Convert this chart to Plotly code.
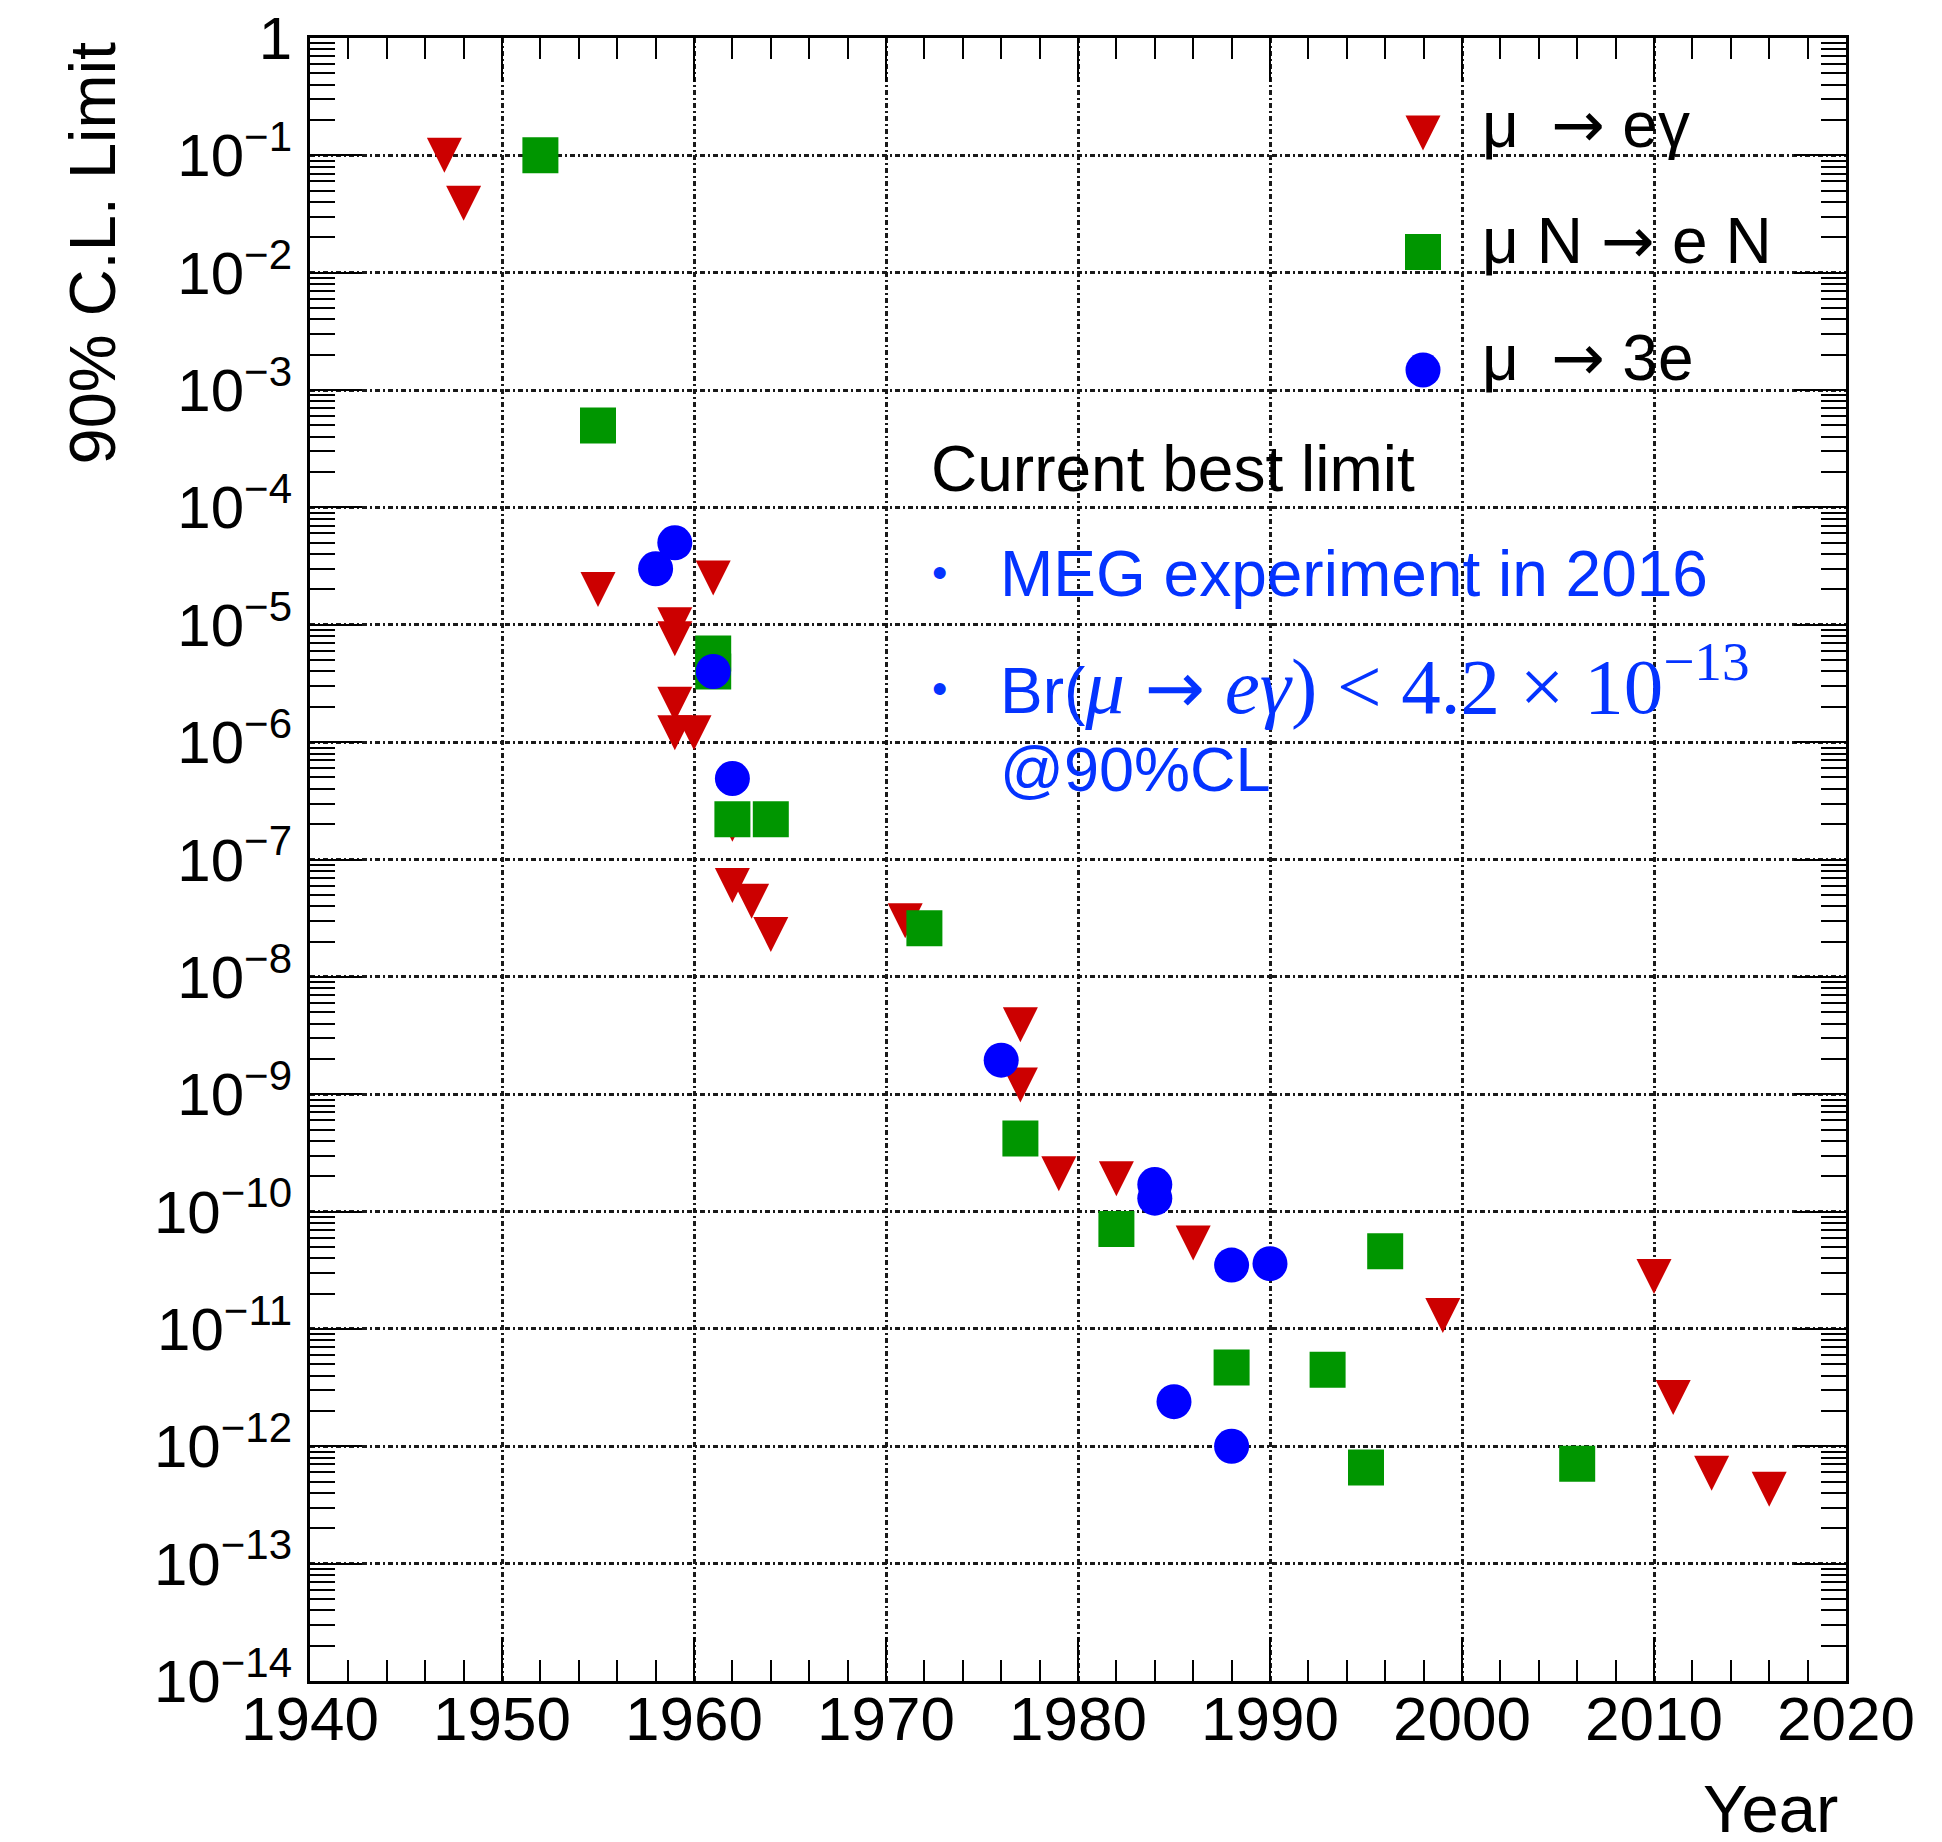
import plotly.graph_objects as go

# ---------------- data ----------------
meg_year = [1947, 1948, 1955, 1959, 1959, 1961, 1959, 1959, 1960, 1962, 1962, 1963,
            1964, 1971, 1977, 1977, 1979, 1982, 1986, 1999, 2010, 2011, 2013, 2016]
meg_limit = [1.0e-1, 3.9e-2, 2.0e-5, 1.0e-5, 7.6e-6, 2.5e-5, 2.1e-6, 1.2e-6, 1.2e-6,
             2.0e-7, 6.0e-8, 4.4e-8, 2.3e-8, 3.0e-8, 3.9e-9, 1.2e-9, 2.1e-10, 1.9e-10,
             5.4e-11, 1.3e-11, 2.8e-11, 2.6e-12, 5.9e-13, 4.3e-13]

conv_year = [1952, 1955, 1961, 1961, 1962, 1964, 1972, 1977, 1982, 1988, 1993, 1996, 1995, 2006]
conv_limit = [1.0e-1, 5.0e-4, 5.7e-6, 4.0e-6, 2.2e-7, 2.2e-7, 2.6e-8, 4.2e-10, 7.1e-11,
              4.7e-12, 4.5e-12, 4.6e-11, 6.6e-13, 7.1e-13]

three_e_year = [1958, 1959, 1961, 1962, 1976, 1984, 1984, 1985, 1988, 1990, 1988]
three_e_limit = [3.0e-5, 5.0e-5, 4.0e-6, 4.9e-7, 1.95e-9, 1.7e-10, 1.3e-10, 2.4e-12,
                 3.5e-11, 3.6e-11, 1.0e-12]

ARROW = "<span style='font-family:DejaVu Sans'>→</span>"
series_names = ["μ → eγ", "μ N → e N", "μ → 3e"]
series_labels = ["μ\u2002" + ARROW + " eγ", "μ N " + ARROW + " e N", "μ\u2002" + ARROW + " 3e"]

x_tickvals = [1940, 1950, 1960, 1970, 1980, 1990, 2000, 2010, 2020]
x_ticktext = ["1940", "1950", "1960", "1970", "1980", "1990", "2000", "2010", "2020"]

y_exponents = list(range(-14, 1))
y_ticktext = ["10<sup>−14</sup>", "10<sup>−13</sup>", "10<sup>−12</sup>", "10<sup>−11</sup>",
              "10<sup>−10</sup>", "10<sup>−9</sup>", "10<sup>−8</sup>", "10<sup>−7</sup>",
              "10<sup>−6</sup>", "10<sup>−5</sup>", "10<sup>−4</sup>", "10<sup>−3</sup>",
              "10<sup>−2</sup>", "10<sup>−1</sup>", "1"]

box_title = "Current best limit"
box_line1 = "MEG experiment in 2016"
box_line2 = ("Br(<span style='font-family:Liberation Serif;font-size:79px'>"
             "<i>μ</i> <span style='font-family:DejaVu Sans;font-size:72px'>→</span> "
             "<i>eγ</i>) &lt; 4.2 × 10<sup>−13</sup></span>")
box_line3 = "@90%CL"

# ---------------- styling ----------------
RED, GREEN, BLUE = "#CC0000", "#009600", "#0000FF"
TEXT_BLUE = "#0433FF"
FONT = "Liberation Sans"
W, H = 1942, 1842
L, R, T, B = 310, 96, 38, 161
PW, PH = W - L - R, H - T - B


def px(x):
    return (x - L) / PW


def py(y):
    return (H - B - y) / PH


TRI = 35
fig = go.Figure()

fig.add_trace(go.Scatter(x=meg_year, y=meg_limit, mode="markers", name=series_names[0],
                         marker=dict(symbol="arrow-down", size=TRI, standoff=TRI / 2,
                                     color=RED, line=dict(width=0)),
                         showlegend=False))
fig.add_trace(go.Scatter(x=conv_year, y=conv_limit, mode="markers", name=series_names[1],
                         marker=dict(symbol="square", size=36, color=GREEN, line=dict(width=0)),
                         showlegend=False))
fig.add_trace(go.Scatter(x=three_e_year, y=three_e_limit, mode="markers", name=series_names[2],
                         marker=dict(symbol="circle", size=35, color=BLUE, line=dict(width=0)),
                         showlegend=False))

# legend markers (drawn on an overlay axis in plot-fraction units)
leg_y_px = [133, 252, 370]
leg_text_y_px = [125, 241, 358]
leg_symbols = ["arrow-down", "square", "circle"]
leg_colors = [RED, GREEN, BLUE]
leg_sizes = [TRI, 36, 35]
for i in range(3):
    m = dict(symbol=leg_symbols[i], size=leg_sizes[i], color=leg_colors[i], line=dict(width=0))
    if leg_symbols[i] == "arrow-down":
        m["standoff"] = TRI / 2
    fig.add_trace(go.Scatter(x=[px(1423)], y=[py(leg_y_px[i])], mode="markers",
                             marker=m, xaxis="x2", yaxis="y2", showlegend=False,
                             hoverinfo="skip"))

grid_common = dict(showgrid=True, gridcolor="#1a1a1a", gridwidth=2.5, griddash="5px,3px,2px,3px")

fig.update_layout(
    width=W, height=H, autosize=False,
    margin=dict(l=L, r=R, t=T, b=B, autoexpand=False),
    paper_bgcolor="white", plot_bgcolor="white",
    font=dict(family=FONT, color="black"),
    xaxis=dict(range=[1940, 2020], tickmode="array", tickvals=x_tickvals, ticktext=x_ticktext,
               ticks="inside", ticklen=44, tickwidth=2, tickcolor="black",
               showline=True, linewidth=3, linecolor="black", mirror="ticks",
               tickfont=dict(family=FONT, size=62, color="black"), ticklabelstandoff=-18,
               minor=dict(tickmode="linear", tick0=1940, dtick=2, ticks="inside", ticklen=21,
                          tickwidth=2, tickcolor="black", showgrid=False),
               zeroline=False, **grid_common),
    yaxis=dict(type="log", range=[-14, 0], tickmode="array",
               tickvals=[10.0 ** e for e in y_exponents], ticktext=y_ticktext,
               ticks="inside", ticklen=52, tickwidth=2, tickcolor="black",
               showline=True, linewidth=3, linecolor="black", mirror="ticks",
               tickfont=dict(family=FONT, size=60, color="black"), ticklabelstandoff=3,
               minor=dict(tickmode="array",
                          tickvals=[k * 10.0 ** e for e in y_exponents[:-1] for k in range(2, 10)],
                          ticks="inside", ticklen=25, tickwidth=2, tickcolor="black",
                          showgrid=False),
               zeroline=False, **grid_common),
    xaxis2=dict(overlaying="x", range=[0, 1], visible=False, fixedrange=True),
    yaxis2=dict(overlaying="y", range=[0, 1], visible=False, fixedrange=True),
)

# white box behind the "current best limit" text
fig.add_shape(type="rect", xref="paper", yref="paper",
              x0=px(919), x1=px(1787), y0=py(811), y1=py(417),
              fillcolor="white", line=dict(width=0), layer="between")

ann = []
ann.append(dict(text="90% C.L. Limit", textangle=-90, x=px(92), y=py(40),
                xanchor="center", yanchor="top", font=dict(size=65, family=FONT, color="black")))
ann.append(dict(text="Year", x=px(1840), y=py(1809), xanchor="right", yanchor="middle",
                font=dict(size=67, family=FONT, color="black")))
for i in range(3):
    ann.append(dict(text=series_labels[i], x=px(1480), y=py(leg_text_y_px[i]),
                    xanchor="left", yanchor="middle",
                    font=dict(size=64, family=FONT, color="black")))
ann.append(dict(text=box_title, x=px(929), y=py(469), xanchor="left", yanchor="middle",
                font=dict(size=64, family=FONT, color="black")))
ann.append(dict(text="•", x=px(939), y=py(572), xanchor="center", yanchor="middle",
                font=dict(size=44, family=FONT, color=TEXT_BLUE)))
ann.append(dict(text=box_line1, x=px(998), y=py(574), xanchor="left", yanchor="middle",
                font=dict(size=64, family=FONT, color=TEXT_BLUE)))
ann.append(dict(text="•", x=px(939), y=py(688), xanchor="center", yanchor="middle",
                font=dict(size=44, family=FONT, color=TEXT_BLUE)))
ann.append(dict(text=box_line2, x=px(998), y=py(680), xanchor="left", yanchor="middle",
                font=dict(size=64, family=FONT, color=TEXT_BLUE)))
ann.append(dict(text=box_line3, x=px(998), y=py(769), xanchor="left", yanchor="middle",
                font=dict(size=63, family=FONT, color=TEXT_BLUE)))
for a in ann:
    a.update(xref="paper", yref="paper", showarrow=False)
fig.update_layout(annotations=ann)

fig.write_html("out.html", config={"displayModeBar": False},
               post_script="document.body.style.margin='0';")
